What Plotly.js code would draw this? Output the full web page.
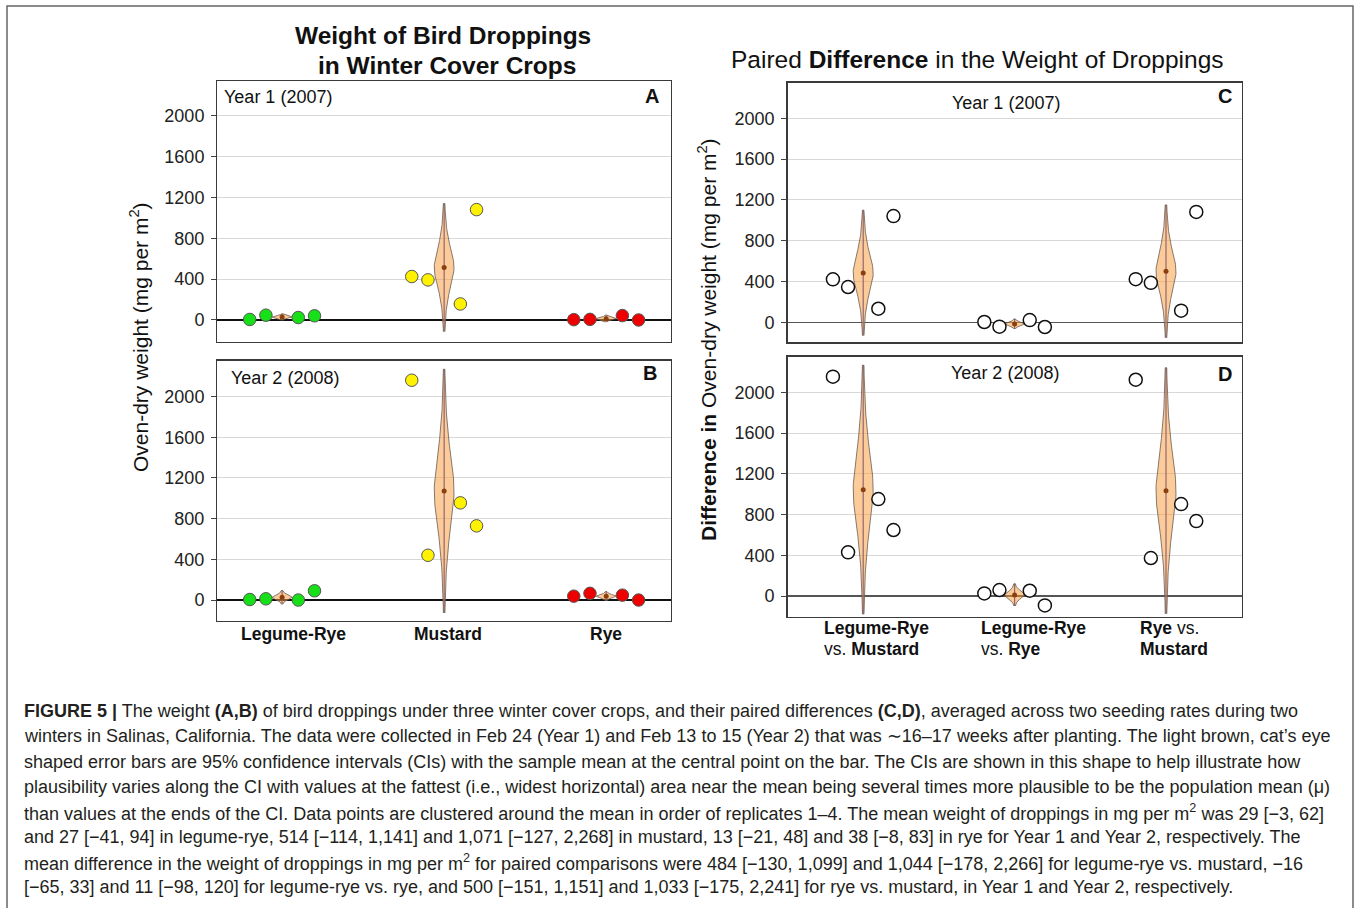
<!DOCTYPE html>
<html>
<head>
<meta charset="utf-8">
<script src="https://cdn.plot.ly/plotly-3.0.1.min.js"></script>
<style>
html,body{margin:0;padding:0;background:#fff;}
#chart{width:1357px;height:908px;}
</style>
</head>
<body>
<div id="chart"></div>
<script>
// ---------- DATA ----------
const cropCategories = ["Legume-Rye", "Mustard", "Rye"];
const pairLine1 = ["<b>Legume-Rye</b>", "<b>Legume-Rye</b>", "<b>Rye</b> vs."];
const pairLine2 = ["vs. <b>Mustard</b>", "vs. <b>Rye</b>", "<b>Mustard</b>"];
const yTickValues = [0, 400, 800, 1200, 1600, 2000];

// Year 1 (2007) replicates 1-4 (mg per m2)
const y1LegumeRye = [5, 47, 24, 41];
const y1Mustard = [426, 393, 157, 1082];
const y1Rye = [3, 6, 43, 0];
// Year 2 (2008)
const y2LegumeRye = [5, 12, 0, 91];
const y2Mustard = [2160, 440, 955, 729];
const y2Rye = [38, 66, 48, 0];

// Paired differences, Year 1
const d1LegumeRyeVsMustard = [421, 346, 133, 1041];
const d1LegumeRyeVsRye = [3, -43, 22, -46];
const d1RyeVsMustard = [423, 387, 114, 1082];
// Paired differences, Year 2
const d2LegumeRyeVsMustard = [2154, 429, 952, 648];
const d2LegumeRyeVsRye = [26, 59, 52, -92];
const d2RyeVsMustard = [2124, 373, 903, 736];

// Means and 95% CIs (from caption)
const y1Mean = [29, 514, 13];   const y1Low = [-3, -114, -21];   const y1High = [62, 1141, 48];
const y2Mean = [27, 1071, 38];  const y2Low = [-41, -127, -8];   const y2High = [94, 2268, 83];
const d1Mean = [484, -16, 500]; const d1Low = [-130, -65, -151]; const d1High = [1099, 33, 1151];
const d2Mean = [1044, 11, 1033]; const d2Low = [-178, -98, -175]; const d2High = [2266, 120, 2241];

// ---------- HELPERS ----------
const W = 1357, H = 908;
const px = v => v / W;
const py = v => 1 - v / H;
const FONT = "Liberation Sans, Arial, Helvetica, sans-serif";
const offsets = [-0.2, -0.1, 0.1, 0.2];

const traces = [];

function catsEye(cx, mean, lo, hi, halfW, xa, ya) {
  const tc = 2.8, n = 80;
  const right = [], left = [];
  for (let i = 0; i <= n; i++) {
    const y = lo + (hi - lo) * i / n;
    const t = y < mean ? (y - mean) / (mean - lo) * tc : (y - mean) / (hi - mean) * tc;
    const hw = halfW * Math.pow(1 + t * t / 3, -2);
    right.push([cx + hw, y]);
    left.push([cx - hw, y]);
  }
  const pts = right.concat(left.reverse());
  traces.push({type: "scatter", mode: "lines", x: [cx, cx], y: [lo, hi], xaxis: xa, yaxis: ya,
    line: {color: "#2a2aa0", width: 1.2}, hoverinfo: "skip", showlegend: false});
  traces.push({type: "scatter", mode: "lines", x: pts.map(p => p[0]), y: pts.map(p => p[1]),
    xaxis: xa, yaxis: ya, fill: "toself", fillcolor: "rgba(248,158,60,0.52)",
    line: {color: "#6a5a50", width: 0.8}, hoverinfo: "skip", showlegend: false});
  traces.push({type: "scatter", mode: "markers", x: [cx], y: [mean], xaxis: xa, yaxis: ya,
    marker: {color: "#8b3f0f", size: 5}, hoverinfo: "skip", showlegend: false});
}

function points(cx, vals, xa, ya, marker) {
  traces.push({type: "scatter", mode: "markers", x: offsets.map(o => cx + o), y: vals,
    xaxis: xa, yaxis: ya, marker: marker, hoverinfo: "y", showlegend: false});
}

const filled = c => ({color: c, size: 12.5, line: {color: "#555", width: 1}});
const openM = {color: "#fff", size: 13, line: {color: "#111", width: 1.5}};

const aSets = [y1LegumeRye, y1Mustard, y1Rye];
const bSets = [y2LegumeRye, y2Mustard, y2Rye];
const cSets = [d1LegumeRyeVsMustard, d1LegumeRyeVsRye, d1RyeVsMustard];
const dSets = [d2LegumeRyeVsMustard, d2LegumeRyeVsRye, d2RyeVsMustard];
const cropColors = ["#18e018", "#fff200", "#ee0000"];

for (let i = 0; i < 3; i++) {
  catsEye(i, y1Mean[i], y1Low[i], y1High[i], 0.061, "x", "y");
  points(i, aSets[i], "x", "y", filled(cropColors[i]));
  catsEye(i, y2Mean[i], y2Low[i], y2High[i], 0.061, "x2", "y2");
  points(i, bSets[i], "x2", "y2", filled(cropColors[i]));
  catsEye(i, d1Mean[i], d1Low[i], d1High[i], 0.066, "x3", "y3");
  points(i, cSets[i], "x3", "y3", openM);
  catsEye(i, d2Mean[i], d2Low[i], d2High[i], 0.066, "x4", "y4");
  points(i, dSets[i], "x4", "y4", openM);
}

function xAxis(x0, x1, y, range) {
  return {domain: [px(x0), px(x1)], range: range, anchor: y, showgrid: false, zeroline: false,
    showticklabels: false, ticks: "", showline: true, mirror: true, linecolor: "#3a3a3a", linewidth: 1.3,
    fixedrange: true};
}
function yAxis(top, bottom, x, range, zc) {
  return {domain: [py(bottom), py(top)], range: range, anchor: x, tickvals: yTickValues,
    ticks: "outside", ticklen: 5, tickcolor: "#444", tickwidth: 1,
    tickfont: {family: FONT, size: 18, color: "#222"}, ticklabelstandoff: 3,
    showgrid: true, gridcolor: "#d8d8d8", gridwidth: 1,
    zeroline: true, zerolinecolor: zc, zerolinewidth: 1.3,
    showline: true, mirror: true, linecolor: "#3a3a3a", linewidth: 1.3, fixedrange: true};
}

const annotations = [];
function ann(text, x, y, size, opts) {
  annotations.push(Object.assign({text: text, x: px(x), y: py(y), xref: "paper", yref: "paper",
    showarrow: false, xanchor: "center", yanchor: "middle",
    font: {family: FONT, size: size, color: "#111"}}, opts || {}));
}

// Titles
ann("<b>Weight of Bird Droppings</b>", 443, 36, 24.5);
ann("<b>in Winter Cover Crops</b>", 447, 65, 24.5);
ann("Paired <b>Difference</b> in the Weight of Droppings", 977, 59, 24.5);

// Panel labels
ann("Year 1 (2007)", 222, 97, 18, {xanchor: "left"});
ann("<b>A</b>", 661, 96, 20, {xanchor: "right"});
ann("Year 2 (2008)", 229, 378, 18, {xanchor: "left"});
ann("<b>B</b>", 659, 373, 20, {xanchor: "right"});
ann("Year 1 (2007)", 1006, 103, 18);
ann("<b>C</b>", 1234, 96, 20, {xanchor: "right"});
ann("Year 2 (2008)", 1005, 373, 18);
ann("<b>D</b>", 1234, 374, 20, {xanchor: "right"});

// Axis titles
ann("Oven-dry weight (mg per m<sup>2</sup>)", 139, 337, 21, {textangle: -90});
ann("<b>Difference in</b> Oven-dry weight (mg per m<sup>2</sup>)", 707, 340, 21, {textangle: -90});

// Category labels panel B
const bLabelX = [293, 448, 606];
cropCategories.forEach((c, i) => ann("<b>" + c + "</b>", bLabelX[i], 634, 17.5));
// Pair labels panel D
const dLabelX = [822, 979, 1138];
pairLine1.forEach((c, i) => ann(c, dLabelX[i], 628, 17.5, {xanchor: "left"}));
pairLine2.forEach((c, i) => ann(c, dLabelX[i], 649, 17.5, {xanchor: "left"}));

// Caption
const captionLines = [
  "<b>FIGURE 5 |</b> The weight <b>(A,B)</b> of bird droppings under three winter cover crops, and their paired differences <b>(C,D)</b>, averaged across two seeding rates during two",
  "winters in Salinas, California. The data were collected in Feb 24 (Year 1) and Feb 13 to 15 (Year 2) that was \u223C16\u201317 weeks after planting. The light brown, cat\u2019s eye",
  "shaped error bars are 95% confidence intervals (CIs) with the sample mean at the central point on the bar. The CIs are shown in this shape to help illustrate how",
  "plausibility varies along the CI with values at the fattest (i.e., widest horizontal) area near the mean being several times more plausible to be the population mean (\u03BC)",
  "than values at the ends of the CI. Data points are clustered around the mean in order of replicates 1\u20134. The mean weight of droppings in mg per m<sup>2</sup> was 29 [\u22123, 62]",
  "and 27 [\u221241, 94] in legume-rye, 514 [\u2212114, 1,141] and 1,071 [\u2212127, 2,268] in mustard, 13 [\u221221, 48] and 38 [\u22128, 83] in rye for Year 1 and Year 2, respectively. The",
  "mean difference in the weight of droppings in mg per m<sup>2</sup> for paired comparisons were 484 [\u2212130, 1,099] and 1,044 [\u2212178, 2,266] for legume-rye vs. mustard, \u221216",
  "[\u221265, 33] and 11 [\u221298, 120] for legume-rye vs. rye, and 500 [\u2212151, 1,151] and 1,033 [\u2212175, 2,241] for rye vs. mustard, in Year 1 and Year 2, respectively."
];
const captionY = [711, 736, 762, 787, 812, 837, 862, 887];
captionLines.forEach((t, i) => ann(t, 22, captionY[i], 18,
  {xanchor: "left", font: {family: FONT, size: 18, color: "#231f20"}}));

const layout = {
  width: W, height: H, margin: {l: 0, r: 0, t: 0, b: 0},
  paper_bgcolor: "#fff", plot_bgcolor: "#fff", showlegend: false,
  font: {family: FONT},
  xaxis: xAxis(217.3, 671, "y", [-0.4, 2.4]),
  yaxis: yAxis(81, 342, "x", [-216, 2343], "#111"),
  xaxis2: xAxis(217.3, 671, "y2", [-0.4, 2.4]),
  yaxis2: yAxis(360.5, 620.5, "x2", [-201, 2354], "#111"),
  xaxis3: xAxis(787.5, 1241.7, "y3", [-0.5, 2.5]),
  yaxis3: yAxis(82.7, 342.3, "x3", [-196, 2349], "#555"),
  xaxis4: xAxis(787.5, 1241.7, "y4", [-0.5, 2.5]),
  yaxis4: yAxis(356.7, 616.7, "x4", [-203, 2350], "#555"),
  annotations: annotations,
  shapes: [{type: "rect", xref: "paper", yref: "paper", x0: px(7), x1: px(1353), y0: py(920), y1: py(6),
    line: {color: "#666", width: 1.5}, fillcolor: "rgba(0,0,0,0)", layer: "below"}]
};

Plotly.newPlot("chart", traces, layout, {displayModeBar: false, staticPlot: true});
</script>
</body>
</html>
